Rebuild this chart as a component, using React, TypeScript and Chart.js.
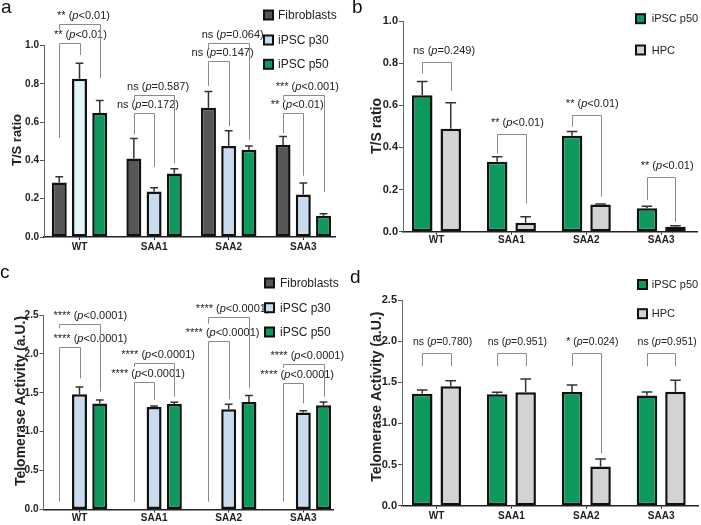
import React, { useEffect, useRef } from 'react';
import { Chart, registerables } from 'chart.js';

Chart.register(...registerables);

const FONT = '"Liberation Sans", Arial, Helvetica, sans-serif';
Chart.defaults.font.family = FONT;

// ---------------- data ----------------
const categories = ['WT', 'SAA1', 'SAA2', 'SAA3'];

// Panel a / b : T/S ratio
const tsFibroblasts = [0.285, 0.41, 0.675, 0.48];
const tsFibroblastsErr = [0.03, 0.105, 0.085, 0.045];
const tsP30 = [0.827, 0.237, 0.475, 0.222];
const tsP30Err = [0.08, 0.02, 0.08, 0.06];
const tsP50 = [0.648, 0.332, 0.455, 0.111];
const tsP50Err = [0.065, 0.024, 0.02, 0.01];
const tsHPC = [0.489, 0.043, 0.129, 0.024];
const tsHPCErr = [0.123, 0.028, 0.002, 0.004];

// Panel c / d : Telomerase activity
const taFibroblasts = [0, 0, 0, 0];
const taP30 = [1.482, 1.319, 1.289, 1.246];
const taP30Err = [0.094, 0.011, 0.064, 0.022];
const taP50 = [1.362, 1.355, 1.383, 1.34];
const taP50Err = [0.045, 0.025, 0.083, 0.042];
const taHPC = [1.451, 1.378, 0.476, 1.386];
const taHPCErr = [0.069, 0.162, 0.093, 0.138];

// significance brackets: category, bar a, bar b, bracket level, leg ends, stars, p
type Bracket = { cat: number; a: number; b: number; y: number; ya: number; yb: number; sig: string; p: string };

const bracketsA: Bracket[] = [
  { cat: 0, a: 0, b: 1, y: 1.013, ya: 0.517, yb: 0.95, sig: '**', p: '<0.01' },
  { cat: 0, a: 0, b: 2, y: 1.112, ya: 1.08, yb: 0.83, sig: '**', p: '<0.01' },
  { cat: 1, a: 0, b: 1, y: 0.648, ya: 0.535, yb: 0.366, sig: 'ns', p: '=0.172' },
  { cat: 1, a: 0, b: 2, y: 0.742, ya: 0.715, yb: 0.386, sig: 'ns', p: '=0.587' },
  { cat: 2, a: 0, b: 1, y: 0.919, ya: 0.789, yb: 0.58, sig: 'ns', p: '=0.147' },
  { cat: 2, a: 0, b: 2, y: 1.013, ya: 0.976, yb: 0.507, sig: 'ns', p: '=0.064' },
  { cat: 3, a: 0, b: 1, y: 0.648, ya: 0.543, yb: 0.32, sig: '**', p: '<0.01' },
  { cat: 3, a: 0, b: 2, y: 0.742, ya: 0.715, yb: 0.235, sig: '***', p: '<0.001' },
];

const bracketsB: Bracket[] = [
  { cat: 0, a: 0, b: 1, y: 0.806, ya: 0.75, yb: 0.668, sig: 'ns', p: '=0.249' },
  { cat: 1, a: 0, b: 1, y: 0.466, ya: 0.372, yb: 0.135, sig: '**', p: '<0.01' },
  { cat: 2, a: 0, b: 1, y: 0.553, ya: 0.498, yb: 0.166, sig: '**', p: '<0.01' },
  { cat: 3, a: 0, b: 1, y: 0.261, ya: 0.15, yb: 0.047, sig: '**', p: '<0.01' },
];

const bracketsC: Bracket[] = [
  { cat: 0, a: 0, b: 1, y: 2.085, ya: 0.1, yb: 1.686, sig: '****', p: '<0.0001' },
  { cat: 0, a: 0, b: 2, y: 2.384, ya: 2.33, yb: 1.514, sig: '****', p: '<0.0001' },
  { cat: 1, a: 0, b: 1, y: 1.635, ya: 0.1, yb: 1.407, sig: '****', p: '<0.0001' },
  { cat: 1, a: 0, b: 2, y: 1.879, ya: 1.835, yb: 1.45, sig: '****', p: '<0.0001' },
  { cat: 2, a: 0, b: 1, y: 2.166, ya: 0.1, yb: 1.416, sig: '****', p: '<0.0001' },
  { cat: 2, a: 0, b: 2, y: 2.47, ya: 2.39, yb: 1.558, sig: '****', p: '<0.0001' },
  { cat: 3, a: 0, b: 1, y: 1.63, ya: 0.1, yb: 1.365, sig: '****', p: '<0.0001' },
  { cat: 3, a: 0, b: 2, y: 1.87, ya: 1.82, yb: 1.45, sig: '****', p: '<0.0001' },
];

const bracketsD: Bracket[] = [
  { cat: 0, a: 0, b: 1, y: 1.856, ya: 1.693, yb: 1.693, sig: 'ns', p: '=0.780' },
  { cat: 1, a: 0, b: 1, y: 1.856, ya: 1.693, yb: 1.693, sig: 'ns', p: '=0.951' },
  { cat: 2, a: 0, b: 1, y: 1.856, ya: 1.693, yb: 0.638, sig: '*', p: '=0.024' },
  { cat: 3, a: 0, b: 1, y: 1.856, ya: 1.693, yb: 1.693, sig: 'ns', p: '=0.951' },
];

// ---------------- styles ----------------
const C_FIB = '#565656';
const C_P30 = '#c8dbef';
const C_P30_LIGHT = '#e2f6fb';
const C_P50 = '#0e9a5c';
const C_HPC = '#d3d3d3';

type Series = { name: string; values: number[]; err: number[]; color: string | string[]; swatch: string };

type PanelSpec = {
  letter: string; letterX: number; letterY: number;
  x: number; y: number; w: number; h: number;
  left: number; right: number; top: number; bottom: number;
  c0: number; pitch: number; catPct: number; barPct: number;
  yMax: number; yStep: number; tickFont: number; catPad: number;
  title: string; titleX: number; titleY: number; titleFont: number;
  series: Series[];
  brackets: Bracket[]; labelFont: number; labelDy: number; labelDx: number;
  legendX: number; legendYs: number[]; legendTextX: number; legendFont: number; swatch: number;
};

function drawLabel(ctx: CanvasRenderingContext2D, b: Bracket, cx: number, cy: number, size: number, minLeft: number) {
  const parts = [
    { t: b.sig + ' (', it: false },
    { t: 'p', it: true },
    { t: b.p + ')', it: false },
  ];
  let total = 0;
  const widths = parts.map((p) => {
    ctx.font = `${p.it ? 'italic ' : ''}${size}px ${FONT}`;
    const w = ctx.measureText(p.t).width;
    total += w;
    return w;
  });
  let x = cx - total / 2;
  if (x < minLeft) x = minLeft;
  ctx.fillStyle = '#222';
  ctx.textBaseline = 'middle';
  ctx.textAlign = 'left';
  parts.forEach((p, i) => {
    ctx.font = `${p.it ? 'italic ' : ''}${size}px ${FONT}`;
    ctx.fillText(p.t, x, cy);
    x += widths[i];
  });
}

function makePlugin(p: PanelSpec) {
  return {
    id: 'annot' + p.letter,
    afterDatasetsDraw(chart: any) {
      const ctx: CanvasRenderingContext2D = chart.ctx;
      const ys = chart.scales.y;
      ctx.save();
      ctx.strokeStyle = '#333';
      ctx.lineWidth = 1.5;
      p.series.forEach((s, di) => {
        const meta = chart.getDatasetMeta(di);
        s.values.forEach((v, i) => {
          const e = s.err[i];
          if (!v || !e) return;
          const bar = meta.data[i];
          const yTop = ys.getPixelForValue(v + e);
          const half = Math.max(3.5, bar.width * 0.26);
          ctx.beginPath();
          ctx.moveTo(bar.x, bar.y);
          ctx.lineTo(bar.x, yTop);
          ctx.moveTo(bar.x - half, yTop);
          ctx.lineTo(bar.x + half, yTop);
          ctx.stroke();
        });
      });
      ctx.restore();
    },
    afterDraw(chart: any) {
      const ctx: CanvasRenderingContext2D = chart.ctx;
      const ys = chart.scales.y;
      ctx.save();
      // brackets
      ctx.strokeStyle = '#8a8a8a';
      ctx.lineWidth = 1;
      p.brackets.forEach((b) => {
        const xa = chart.getDatasetMeta(b.a).data[b.cat].x;
        const xb = chart.getDatasetMeta(b.b).data[b.cat].x;
        const yl = Math.round(ys.getPixelForValue(b.y)) + 0.5;
        ctx.beginPath();
        ctx.moveTo(Math.round(xa) + 0.5, ys.getPixelForValue(b.ya));
        ctx.lineTo(Math.round(xa) + 0.5, yl);
        ctx.lineTo(Math.round(xb) + 0.5, yl);
        ctx.lineTo(Math.round(xb) + 0.5, ys.getPixelForValue(b.yb));
        ctx.stroke();
        drawLabel(ctx, b, (xa + xb) / 2 + p.labelDx, yl - p.labelDy, p.labelFont, chart.chartArea.left + 10);
      });
      // legend
      p.series.forEach((s, i) => {
        const cy = p.legendYs[i];
        const sz = p.swatch;
        ctx.fillStyle = '#111';
        ctx.fillRect(p.legendX, cy - sz / 2, sz, sz);
        ctx.fillStyle = s.swatch;
        ctx.fillRect(p.legendX + 2, cy - sz / 2 + 2, sz - 4, sz - 4);
        ctx.fillStyle = '#222';
        ctx.font = `${p.legendFont}px ${FONT}`;
        ctx.textBaseline = 'middle';
        ctx.textAlign = 'left';
        ctx.fillText(s.name, p.legendTextX, cy + 0.5);
      });
      // y title
      ctx.save();
      ctx.translate(p.titleX, p.titleY);
      ctx.rotate(-Math.PI / 2);
      ctx.font = `bold ${p.titleFont}px ${FONT}`;
      ctx.fillStyle = '#222';
      ctx.textAlign = 'center';
      ctx.textBaseline = 'middle';
      ctx.fillText(p.title, 0, 0);
      ctx.restore();
      // panel letter
      ctx.font = `19px ${FONT}`;
      ctx.fillStyle = '#111';
      ctx.textAlign = 'left';
      ctx.textBaseline = 'alphabetic';
      ctx.fillText(p.letter, p.letterX, p.letterY);
      ctx.restore();
    },
  };
}

function makeConfig(p: PanelSpec): any {
  const xMin = (p.left - p.c0) / p.pitch;
  const xMax = (p.right - p.c0) / p.pitch;
  return {
    type: 'bar',
    data: {
      labels: categories.map((_, i) => i),
      datasets: p.series.map((s) => ({
        label: s.name,
        data: s.values,
        backgroundColor: s.color,
        borderColor: '#111',
        borderWidth: 2.5,
        borderSkipped: false,
        categoryPercentage: p.catPct,
        barPercentage: p.barPct,
      })),
    },
    options: {
      responsive: false,
      maintainAspectRatio: false,
      animation: false,
      devicePixelRatio: 1,
      layout: { padding: { left: 0, top: p.top, right: p.w - p.right, bottom: 0 } },
      plugins: { legend: { display: false }, tooltip: { enabled: false }, title: { display: false } },
      scales: {
        x: {
          type: 'linear',
          offset: false,
          bounds: 'data',
          min: xMin,
          max: xMax,
          afterBuildTicks: (s: any) => {
            s.ticks = categories.map((_, i) => ({ value: i }));
          },
          afterFit: (s: any) => {
            s.height = p.h - p.bottom;
          },
          ticks: {
            autoSkip: false,
            includeBounds: false,
            maxRotation: 0,
            padding: p.catPad,
            color: '#222',
            font: { family: FONT, size: 10, weight: 'bold' },
            callback: (_v: any, i: number) => categories[i],
          },
          grid: { offset: false, drawOnChartArea: false, drawTicks: true, tickLength: 3, color: '#222', lineWidth: 1 },
          border: { display: true, color: '#222', width: 1.5 },
        },
        y: {
          min: 0,
          max: p.yMax,
          afterFit: (s: any) => {
            s.width = p.left;
          },
          ticks: {
            stepSize: p.yStep,
            padding: 1,
            color: '#222',
            font: { family: FONT, size: p.tickFont, weight: 'bold' },
            callback: (v: any) => Number(v).toFixed(1),
          },
          grid: { drawOnChartArea: false, drawTicks: true, tickLength: 4, color: '#555', lineWidth: 1 },
          border: { display: true, color: '#666', width: 1 },
        },
      },
    },
    plugins: [makePlugin(p)],
  };
}

const panels: PanelSpec[] = [
  {
    letter: 'a', letterX: 1, letterY: 13,
    x: 0, y: 0, w: 350, h: 260,
    left: 44, right: 335, top: 45.5, bottom: 237,
    c0: 79.5, pitch: 74.6, catPct: 0.814, barPct: 0.74,
    yMax: 1, yStep: 0.2, tickFont: 10, catPad: 1,
    title: 'T/S ratio', titleX: 17, titleY: 140, titleFont: 13,
    series: [
      { name: 'Fibroblasts', values: tsFibroblasts, err: tsFibroblastsErr, color: C_FIB, swatch: C_FIB },
      { name: 'iPSC p30', values: tsP30, err: tsP30Err, color: [C_P30_LIGHT, C_P30, C_P30, C_P30], swatch: C_P30 },
      { name: 'iPSC p50', values: tsP50, err: tsP50Err, color: C_P50, swatch: C_P50 },
    ],
    brackets: bracketsA, labelFont: 11, labelDy: 9, labelDx: 4,
    legendX: 263, legendYs: [15, 40, 64.3], legendTextX: 278, legendFont: 12, swatch: 11,
  },
  {
    letter: 'b', letterX: 2, letterY: 13,
    x: 350, y: 0, w: 351, h: 260,
    left: 53, right: 347, top: 21, bottom: 231.7,
    c0: 86.5, pitch: 74.9, catPct: 0.761, barPct: 0.72,
    yMax: 1, yStep: 0.2, tickFont: 11, catPad: 0,
    title: 'T/S ratio', titleX: 27.5, titleY: 126, titleFont: 14,
    series: [
      { name: 'iPSC p50', values: tsP50, err: tsP50Err, color: C_P50, swatch: C_P50 },
      { name: 'HPC', values: tsHPC, err: tsHPCErr, color: C_HPC, swatch: C_HPC },
    ],
    brackets: bracketsB, labelFont: 11, labelDy: 11.5, labelDx: 6,
    legendX: 285, legendYs: [18.7, 50], legendTextX: 301.7, legendFont: 11, swatch: 11,
  },
  {
    letter: 'c', letterX: 0, letterY: 18,
    x: 0, y: 260, w: 350, h: 265,
    left: 43.5, right: 333, top: 55, bottom: 249.5,
    c0: 79.5, pitch: 74.6, catPct: 0.814, barPct: 0.74,
    yMax: 2.5, yStep: 0.5, tickFont: 10, catPad: 0,
    title: 'Telomerase Activity (a.U.)', titleX: 21, titleY: 141, titleFont: 14,
    series: [
      { name: 'Fibroblasts', values: taFibroblasts, err: [0, 0, 0, 0], color: C_FIB, swatch: C_FIB },
      { name: 'iPSC p30', values: taP30, err: taP30Err, color: C_P30, swatch: C_P30 },
      { name: 'iPSC p50', values: taP50, err: taP50Err, color: C_P50, swatch: C_P50 },
    ],
    brackets: bracketsC, labelFont: 11, labelDy: 9, labelDx: 4,
    legendX: 264, legendYs: [23, 47.7, 72], legendTextX: 280, legendFont: 12, swatch: 11,
  },
  {
    letter: 'd', letterX: 0, letterY: 23,
    x: 350, y: 260, w: 351, h: 265,
    left: 52, right: 348, top: 40, bottom: 245.7,
    c0: 86.5, pitch: 74.9, catPct: 0.761, barPct: 0.72,
    yMax: 2.5, yStep: 0.5, tickFont: 11, catPad: 2,
    title: 'Telomerase Activity (a.U.)', titleX: 27.5, titleY: 136.7, titleFont: 14,
    series: [
      { name: 'iPSC p50', values: taP50, err: taP50Err, color: C_P50, swatch: C_P50 },
      { name: 'HPC', values: taHPC, err: taHPCErr, color: C_HPC, swatch: C_HPC },
    ],
    brackets: bracketsD, labelFont: 10.5, labelDy: 11.5, labelDx: 6,
    legendX: 287, legendYs: [24.5, 53.7], legendTextX: 301.7, legendFont: 11, swatch: 11,
  },
];

function Panel({ spec }: { spec: PanelSpec }) {
  const ref = useRef<HTMLCanvasElement>(null);
  useEffect(() => {
    const chart = new Chart(ref.current as HTMLCanvasElement, makeConfig(spec));
    return () => chart.destroy();
  }, [spec]);
  return (
    <canvas
      ref={ref}
      width={spec.w}
      height={spec.h}
      style={{ position: 'absolute', left: spec.x, top: spec.y, width: spec.w, height: spec.h }}
    />
  );
}

export default function App() {
  return (
    <div style={{ position: 'absolute', left: 0, top: 0, width: 701, height: 525, background: '#fff', overflow: 'hidden' }}>
      {panels.map((p) => (
        <Panel key={p.letter} spec={p} />
      ))}
    </div>
  );
}
